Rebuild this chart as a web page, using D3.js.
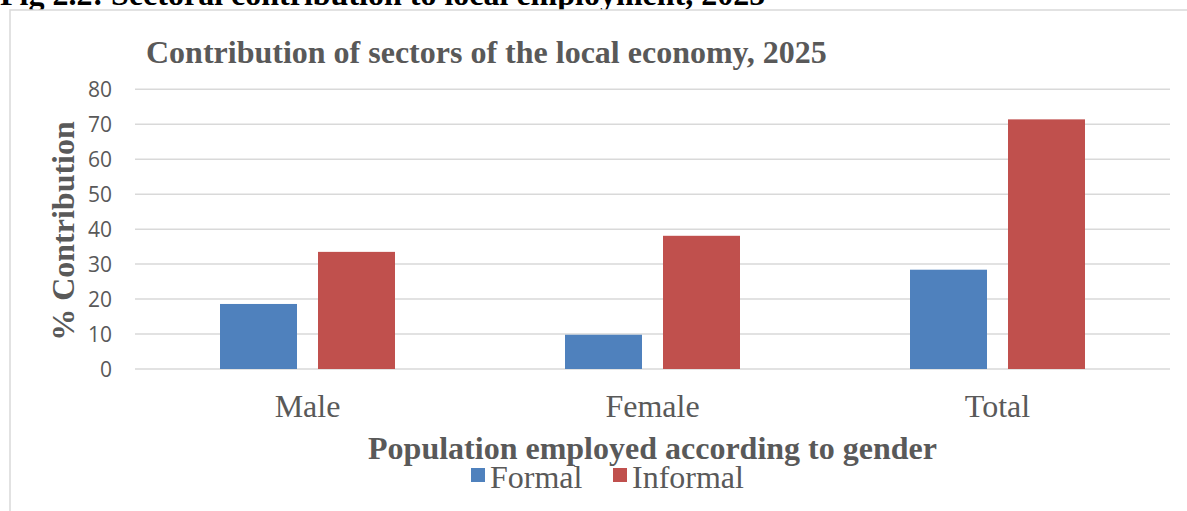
<!DOCTYPE html>
<html>
<head>
<meta charset="utf-8">
<script src="https://cdn.jsdelivr.net/npm/d3@7"></script>
<style>
  html, body { margin: 0; padding: 0; background: #ffffff; }
  svg { display: block; }
</style>
</head>
<body>
<svg id="chart" width="1187" height="511"></svg>
<script>
// Data
const categories = ["Male", "Female", "Total"];
const series = ["Formal", "Informal"];
const formalValues = [18.6, 9.8, 28.4];
const informalValues = [33.5, 38.1, 71.4];
const yTicks = [0, 10, 20, 30, 40, 50, 60, 70, 80];
const seriesColors = ["#4F81BD", "#C0504D"];

const rows = categories.map((c, i) => ({
  category: c,
  values: [
    { key: series[0], value: formalValues[i] },
    { key: series[1], value: informalValues[i] }
  ]
}));

const svg = d3.select("#chart");
const serif = "'Liberation Serif', 'Times New Roman', serif";
const sans = "'Open Sans', 'Liberation Sans', Arial, sans-serif";
const textGray = "#595959";

// Document caption above the chart frame
svg.append("text")
  .attr("x", 0).attr("y", 5)
  .attr("font-family", serif).attr("font-weight", "bold").attr("font-size", 32)
  .attr("fill", "#000")
  .text("Fig 2.2: Sectoral contribution to local employment, 2025");

// Chart frame
svg.append("rect")
  .attr("x", 10).attr("y", 10).attr("width", 1200).attr("height", 520)
  .attr("fill", "#fff").attr("stroke", "#d9d9d9").attr("stroke-width", 1.5);

// Scales
const plot = { left: 135, right: 1170, top: 89.3, bottom: 369 };
const x0 = d3.scaleBand().domain(categories).range([plot.left, plot.right]).padding(0);
const groupWidth = 175;
const x1 = d3.scaleBand().domain(series)
  .range([(x0.bandwidth() - groupWidth) / 2, (x0.bandwidth() + groupWidth) / 2])
  .paddingInner(0.2143).paddingOuter(0);
const y = d3.scaleLinear().domain([0, 80]).range([plot.bottom, plot.top]);
const color = d3.scaleOrdinal().domain(series).range(seriesColors);

// Gridlines
svg.append("g")
  .selectAll("line").data(yTicks).join("line")
  .attr("x1", plot.left).attr("x2", plot.right)
  .attr("y1", d => y(d)).attr("y2", d => y(d))
  .attr("stroke", "#d9d9d9").attr("stroke-width", 1.5);

// Y axis tick labels
const yAxis = d3.axisLeft(y).tickValues(yTicks).tickSize(0).tickPadding(0);
const yg = svg.append("g").attr("transform", "translate(112,0)").call(yAxis);
yg.select(".domain").remove();
yg.selectAll("text")
  .attr("font-family", sans).attr("font-size", 21).attr("fill", textGray)
  .attr("dy", "0.35em");

// Bars
svg.append("g")
  .selectAll("g").data(rows).join("g")
  .attr("transform", d => `translate(${x0(d.category)},0)`)
  .selectAll("rect").data(d => d.values).join("rect")
  .attr("x", d => x1(d.key))
  .attr("width", x1.bandwidth())
  .attr("y", d => y(d.value))
  .attr("height", d => y(0) - y(d.value))
  .attr("fill", d => color(d.key));

// Category axis labels
const xAxis = d3.axisBottom(x0).tickSize(0).tickPadding(0);
const xg = svg.append("g").attr("transform", `translate(0,${plot.bottom})`).call(xAxis);
xg.select(".domain").remove();
xg.selectAll("text")
  .attr("font-family", serif).attr("font-size", 32).attr("fill", textGray)
  .attr("y", 48).attr("dy", 0);

// Chart title
svg.append("text")
  .attr("x", 146).attr("y", 63)
  .attr("font-family", serif).attr("font-weight", "bold").attr("font-size", 32)
  .attr("fill", textGray)
  .text("Contribution of sectors of the local economy, 2025");

// Axis titles
svg.append("text")
  .attr("transform", "translate(74,231) rotate(-90)")
  .attr("text-anchor", "middle")
  .attr("font-family", serif).attr("font-weight", "bold").attr("font-size", 32)
  .attr("fill", textGray)
  .text("% Contribution");

svg.append("text")
  .attr("x", (plot.left + plot.right) / 2).attr("y", 459)
  .attr("text-anchor", "middle")
  .attr("font-family", serif).attr("font-weight", "bold").attr("font-size", 32)
  .attr("fill", textGray)
  .text("Population employed according to gender");

// Legend
const legendX = [471, 613];
const legend = svg.append("g").selectAll("g").data(series).join("g")
  .attr("transform", (d, i) => `translate(${legendX[i]},0)`);
legend.append("rect")
  .attr("x", 0).attr("y", 468).attr("width", 14).attr("height", 14)
  .attr("fill", d => color(d));
legend.append("text")
  .attr("x", 19).attr("y", 488)
  .attr("font-family", serif).attr("font-size", 32).attr("fill", textGray)
  .text(d => d);
</script>
</body>
</html>
